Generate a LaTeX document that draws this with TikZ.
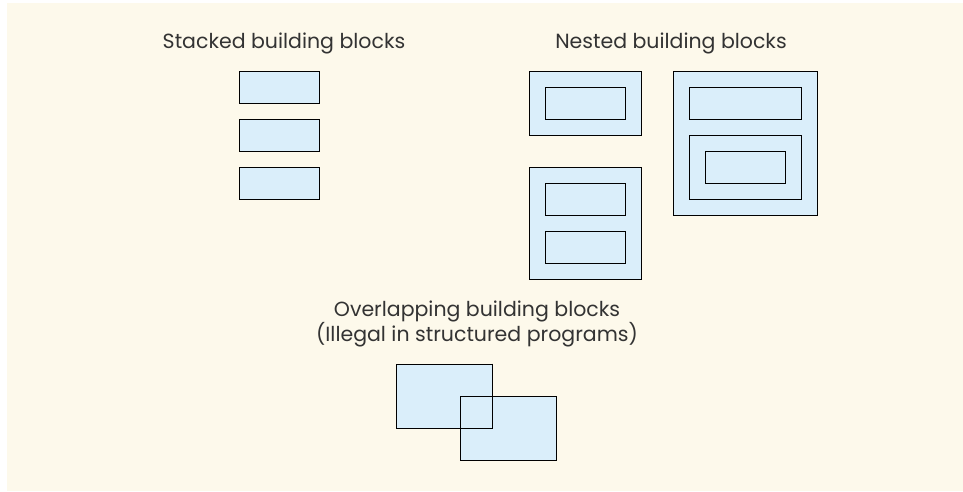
\documentclass[tikz,border=0pt]{standalone}
\usepackage{fontspec}
\setmainfont{Poppins}
\usepackage{tikz}
\definecolor{cream}{HTML}{FDF9EB}
\definecolor{blockblue}{HTML}{DAEEFA}
\definecolor{inkgrey}{HTML}{333333}
\begin{document}
\begin{tikzpicture}[x=1pt,y=-1pt,
  blk/.style={draw=black,fill=blockblue,line width=1pt,inner sep=0pt},
  lbl/.style={text=inkgrey,font=\fontsize{20.5}{25}\selectfont,inner sep=0pt,align=center},
  edge/.style={draw=black,line width=1pt}]
  \useasboundingbox (0,0) rectangle (963,491);
  \fill[cream] (7,3) rectangle (963,491);
  \node[lbl,anchor=base] (stk) at (284,48) {Stacked building blocks};
  \node[blk,minimum width=80,minimum height=32] (s1) at (279,87) {};
  \node[blk,minimum width=80,minimum height=32] (s2) at (279,135) {};
  \node[blk,minimum width=80,minimum height=32] (s3) at (279,183) {};
  \node[lbl,anchor=base] (nst) at (671,48) {Nested building blocks};
  \node[blk,minimum width=112,minimum height=64] (na) at (585,103.5) {};
  \node[blk,minimum width=80,minimum height=32] (na1) at (585.5,103) {};
  \node[blk,minimum width=112,minimum height=112] (nb) at (585,223.5) {};
  \node[blk,minimum width=80,minimum height=32] (nb1) at (585.5,199) {};
  \node[blk,minimum width=80,minimum height=32] (nb2) at (585.5,247) {};
  \node[blk,minimum width=144,minimum height=144] (nc) at (745,143.5) {};
  \node[blk,minimum width=112,minimum height=32] (nc1) at (745.5,103) {};
  \node[blk,minimum width=112,minimum height=64] (nc2) at (745.5,167) {};
  \node[blk,minimum width=80,minimum height=32] (nc3) at (745.5,167) {};
  \node[lbl] (ovl) at (477,324) {Overlapping building blocks\\(Illegal in structured programs)};
  \node[blk,minimum width=96,minimum height=64] (o1) at (444,396) {};
  \node[blk,minimum width=96,minimum height=64] (o2) at (508,428) {};
  \draw[edge] (o1.north east) |- (o1.south west);
\end{tikzpicture}
\end{document}
